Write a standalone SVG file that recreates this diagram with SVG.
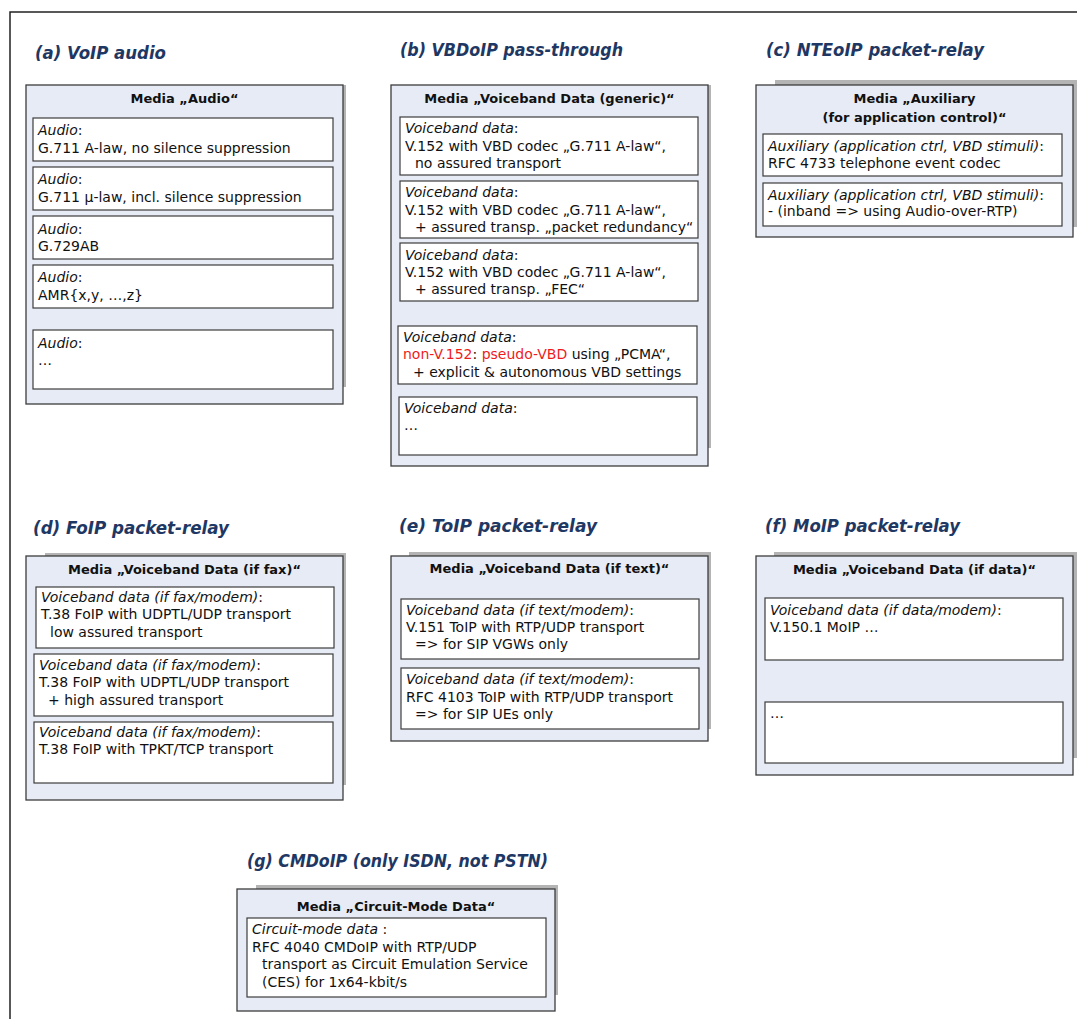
<svg xmlns="http://www.w3.org/2000/svg" width="1077" height="1019" viewBox="0 0 1077 1019">
  <style>
    .frame { fill: none; stroke: #222; stroke-width: 1.5; }
    .shadow { fill: #b4b4b4; }
    .panel { fill: #e6ebf5; stroke: #3c3c3c; stroke-width: 1.3; }
    .box { fill: #ffffff; stroke: #3c3c3c; stroke-width: 1.2; }
    .title { font-family: "DejaVu Sans", "Liberation Sans", sans-serif; font-size: 18px; font-weight: bold; font-style: oblique; fill: #1f3863; }
    .head { font-family: "DejaVu Sans", "Liberation Sans", sans-serif; font-size: 13px; font-weight: bold; fill: #111; text-anchor: middle; }
    .t { font-family: "DejaVu Sans", "Liberation Sans", sans-serif; font-size: 14px; fill: #111; }
    .i { font-style: oblique; }
    .red { fill: #ee1c1c; }
  </style>

  <!-- outer frame -->
  <rect class="frame" x="10" y="12" width="1100" height="1100"/>

  <!-- (a) VoIP audio -->
  <g id="voip-audio">
    <text class="title" x="35" y="59" textLength="131" lengthAdjust="spacingAndGlyphs">(a) VoIP audio</text>
    <rect class="shadow" x="29" y="85" width="317" height="302"/>
    <rect class="panel" x="26" y="85" width="317" height="319"/>
    <text class="head" x="184.5" y="103">Media „Audio“</text>
    <rect class="box" x="33" y="118" width="300" height="43"/>
    <text class="t" x="38" y="135"><tspan class="i">Audio</tspan>:</text>
    <text class="t" x="38" y="152.5">G.711 A-law, no silence suppression</text>
    <rect class="box" x="33" y="167" width="300" height="43"/>
    <text class="t" x="38" y="184"><tspan class="i">Audio</tspan>:</text>
    <text class="t" x="38" y="201.5">G.711 µ-law, incl. silence suppression</text>
    <rect class="box" x="33" y="216" width="300" height="43"/>
    <text class="t" x="38" y="233.5"><tspan class="i">Audio</tspan>:</text>
    <text class="t" x="38" y="250.5">G.729AB</text>
    <rect class="box" x="33" y="265" width="300" height="43"/>
    <text class="t" x="38" y="282"><tspan class="i">Audio</tspan>:</text>
    <text class="t" x="38" y="299.5">AMR{x,y, …,z}</text>
    <rect class="box" x="33" y="330" width="300" height="59"/>
    <text class="t" x="38" y="347.5"><tspan class="i">Audio</tspan>:</text>
    <text class="t" x="38" y="365">…</text>
  </g>

  <!-- (b) VBDoIP pass-through -->
  <g id="vbdoip">
    <text class="title" x="400" y="56" textLength="223" lengthAdjust="spacingAndGlyphs">(b) VBDoIP pass-through</text>
    <rect class="shadow" x="394" y="85" width="317" height="363"/>
    <rect class="panel" x="391" y="85" width="317" height="381"/>
    <text class="head" x="549.5" y="103">Media „Voiceband Data (generic)“</text>
    <rect class="box" x="400" y="117" width="298" height="58"/>
    <text class="t" x="405" y="133"><tspan class="i">Voiceband data</tspan>:</text>
    <text class="t" x="405" y="150.5">V.152 with VBD codec „G.711 A-law“,</text>
    <text class="t" x="415" y="168">no assured transport</text>
    <rect class="box" x="400" y="181" width="298" height="57"/>
    <text class="t" x="405" y="197"><tspan class="i">Voiceband data</tspan>:</text>
    <text class="t" x="405" y="214.5">V.152 with VBD codec „G.711 A-law“,</text>
    <text class="t" x="415" y="232">+ assured transp. „packet redundancy“</text>
    <rect class="box" x="400" y="243" width="298" height="58"/>
    <text class="t" x="405" y="259.5"><tspan class="i">Voiceband data</tspan>:</text>
    <text class="t" x="405" y="276.5">V.152 with VBD codec „G.711 A-law“,</text>
    <text class="t" x="415" y="294">+ assured transp. „FEC“</text>
    <rect class="box" x="398" y="326" width="299" height="58"/>
    <text class="t" x="403" y="342"><tspan class="i">Voiceband data</tspan>:</text>
    <text class="t" x="403" y="359"><tspan class="red">non-V.152</tspan>: <tspan class="red">pseudo-VBD</tspan> using „PCMA“,</text>
    <text class="t" x="413" y="376.5">+ explicit &amp; autonomous VBD settings</text>
    <rect class="box" x="399" y="397" width="298" height="58"/>
    <text class="t" x="404" y="413"><tspan class="i">Voiceband data</tspan>:</text>
    <text class="t" x="404" y="430">…</text>
  </g>

  <!-- (c) NTEoIP packet-relay -->
  <g id="nteoip">
    <text class="title" x="766" y="56" textLength="218" lengthAdjust="spacingAndGlyphs">(c) NTEoIP packet-relay</text>
    <rect class="shadow" x="775" y="80" width="317" height="147"/>
    <rect class="panel" x="756" y="85" width="317" height="152"/>
    <text class="head" x="914.5" y="103">Media „Auxiliary</text>
    <text class="head" x="914.5" y="121.5">(for application control)“</text>
    <rect class="box" x="763" y="134" width="299" height="42"/>
    <text class="t" x="768" y="150.5"><tspan class="i">Auxiliary (application ctrl, VBD stimuli)</tspan>:</text>
    <text class="t" x="768" y="167.5">RFC 4733 telephone event codec</text>
    <rect class="box" x="763" y="183" width="299" height="43"/>
    <text class="t" x="768" y="199.5"><tspan class="i">Auxiliary (application ctrl, VBD stimuli)</tspan>:</text>
    <text class="t" x="768" y="216">- (inband =&gt; using Audio-over-RTP)</text>
  </g>

  <!-- (d) FoIP packet-relay -->
  <g id="foip">
    <text class="title" x="33" y="533.5" textLength="196" lengthAdjust="spacingAndGlyphs">(d) FoIP packet-relay</text>
    <rect class="shadow" x="45" y="553" width="301" height="232"/>
    <rect class="panel" x="26" y="556" width="317" height="244"/>
    <text class="head" x="184.5" y="574">Media „Voiceband Data (if fax)“</text>
    <rect class="box" x="36" y="587" width="298" height="61"/>
    <text class="t" x="41" y="602"><tspan class="i">Voiceband data (if fax/modem)</tspan>:</text>
    <text class="t" x="41" y="619">T.38 FoIP with UDPTL/UDP transport</text>
    <text class="t" x="50" y="636.5">low assured transport</text>
    <rect class="box" x="34" y="654" width="299" height="62"/>
    <text class="t" x="39" y="670"><tspan class="i">Voiceband data (if fax/modem)</tspan>:</text>
    <text class="t" x="39" y="687">T.38 FoIP with UDPTL/UDP transport</text>
    <text class="t" x="48" y="704.5">+ high assured transport</text>
    <rect class="box" x="34" y="722" width="299" height="61"/>
    <text class="t" x="39" y="737"><tspan class="i">Voiceband data (if fax/modem)</tspan>:</text>
    <text class="t" x="39" y="754">T.38 FoIP with TPKT/TCP transport</text>
  </g>

  <!-- (e) ToIP packet-relay -->
  <g id="toip">
    <text class="title" x="399" y="532" textLength="198" lengthAdjust="spacingAndGlyphs">(e) ToIP packet-relay</text>
    <rect class="shadow" x="409" y="552" width="302" height="177"/>
    <rect class="panel" x="391" y="556" width="317" height="185"/>
    <text class="head" x="549.5" y="573">Media „Voiceband Data (if text)“</text>
    <rect class="box" x="401" y="599" width="298" height="60"/>
    <text class="t" x="406" y="614.5"><tspan class="i">Voiceband data (if text/modem)</tspan>:</text>
    <text class="t" x="406" y="632">V.151 ToIP with RTP/UDP transport</text>
    <text class="t" x="415" y="649">=&gt; for SIP VGWs only</text>
    <rect class="box" x="401" y="668" width="298" height="61"/>
    <text class="t" x="406" y="684"><tspan class="i">Voiceband data (if text/modem)</tspan>:</text>
    <text class="t" x="406" y="701.5">RFC 4103 ToIP with RTP/UDP transport</text>
    <text class="t" x="415" y="719">=&gt; for SIP UEs only</text>
  </g>

  <!-- (f) MoIP packet-relay -->
  <g id="moip">
    <text class="title" x="765" y="532" textLength="195" lengthAdjust="spacingAndGlyphs">(f) MoIP packet-relay</text>
    <rect class="shadow" x="774" y="552" width="303" height="206"/>
    <rect class="panel" x="756" y="556" width="317" height="219"/>
    <text class="head" x="914.5" y="574">Media „Voiceband Data (if data)“</text>
    <rect class="box" x="765" y="598" width="298" height="62"/>
    <text class="t" x="770" y="615"><tspan class="i">Voiceband data (if data/modem)</tspan>:</text>
    <text class="t" x="770" y="632">V.150.1 MoIP …</text>
    <rect class="box" x="765" y="702" width="298" height="61"/>
    <text class="t" x="770" y="718">…</text>
  </g>

  <!-- (g) CMDoIP -->
  <g id="cmdoip">
    <text class="title" x="247" y="867" textLength="301" lengthAdjust="spacingAndGlyphs">(g) CMDoIP (only ISDN, not PSTN)</text>
    <rect class="shadow" x="256" y="885" width="302" height="110"/>
    <rect class="panel" x="237" y="889" width="318" height="122"/>
    <text class="head" x="396" y="910.5">Media „Circuit-Mode Data“</text>
    <rect class="box" x="247" y="918" width="299" height="79"/>
    <text class="t" x="252" y="934"><tspan class="i">Circuit-mode data</tspan> :</text>
    <text class="t" x="252" y="951.5">RFC 4040 CMDoIP with RTP/UDP</text>
    <text class="t" x="262" y="969">transport as Circuit Emulation Service</text>
    <text class="t" x="262" y="986.5">(CES) for 1x64-kbit/s</text>
  </g>

  <!-- no connectors in this figure -->
  <g id="connectors"/>
</svg>
